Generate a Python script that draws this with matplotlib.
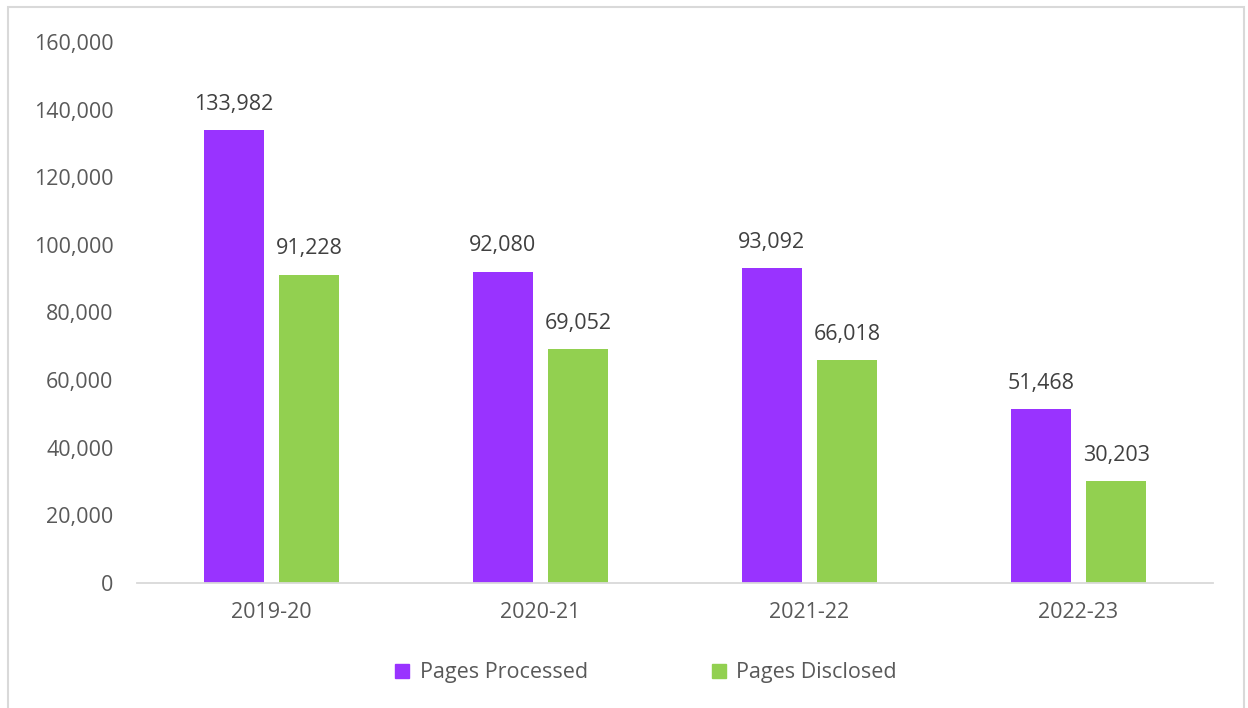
import numpy as np
import matplotlib.pyplot as plt
from matplotlib.patches import Rectangle
from matplotlib.lines import Line2D

# ── Data ──────────────────────────────────────────────────────────────────────
years = ["2019-20", "2020-21", "2021-22", "2022-23"]
processed = [133982, 92080, 93092, 51468]
disclosed = [91228, 69052, 66018, 30203]

PURPLE = "#9933FF"
GREEN = "#92D050"
TEXT = "#595959"
FS = 15.5

plt.rcParams["font.family"] = ["Open Sans", "DejaVu Sans"]

fig = plt.figure(figsize=(12.48, 7.08), dpi=100)
ax = fig.add_axes([0.1098, 0.1766, 0.8622, 0.7641])

x = np.arange(len(years))
w = 0.223
off = 0.14
b1 = ax.bar(x - off, processed, w, color=PURPLE, label="Pages Processed")
b2 = ax.bar(x + off, disclosed, w, color=GREEN, label="Pages Disclosed")

# value labels above each bar
for bars, vals in ((b1, processed), (b2, disclosed)):
    for r, v in zip(bars, vals):
        ax.text(r.get_x() + r.get_width() / 2, v + 4500, f"{v:,}",
                ha="center", va="bottom", fontsize=FS, color="#404040")

ax.set_xlim(-0.5, 3.5)
ax.set_ylim(0, 160000)
ax.set_yticks(np.arange(0, 160001, 20000))
ax.set_yticklabels([f"{t:,}" for t in range(0, 160001, 20000)])
ax.set_xticks(x)
ax.set_xticklabels(years)
ax.tick_params(axis="both", length=0, labelsize=FS, labelcolor=TEXT)
ax.tick_params(axis="y", pad=17)
ax.tick_params(axis="x", pad=14)

for s in ("top", "right", "left"):
    ax.spines[s].set_visible(False)
ax.spines["bottom"].set_color("#D9D9D9")
ax.spines["bottom"].set_linewidth(1.3)

handles = [Line2D([], [], marker="s", ls="", color=PURPLE, markersize=10),
           Line2D([], [], marker="s", ls="", color=GREEN, markersize=10)]
fig.legend(handles, ["Pages Processed", "Pages Disclosed"], loc="center",
           bbox_to_anchor=(0.512, 0.05), ncol=2, frameon=False,
           fontsize=FS, labelcolor=TEXT, handletextpad=-0.2,
           columnspacing=5.1)

# chart border
fig.add_artist(Rectangle((0.0065, -0.01), 0.99, 1.0, transform=fig.transFigure,
                         fill=False, ec="#D9D9D9", lw=1.5))

fig.savefig("out.png", dpi=100)
